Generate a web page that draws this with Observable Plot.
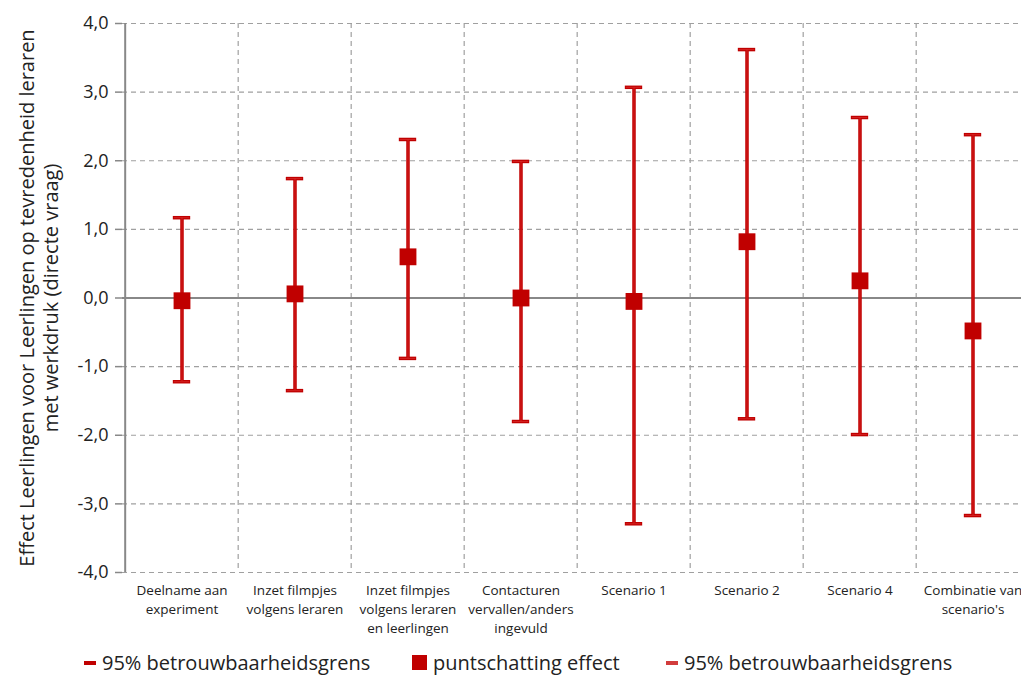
<!DOCTYPE html>
<html>
<head>
<meta charset="utf-8">
<script src="https://cdn.jsdelivr.net/npm/d3@7"></script>
<script src="https://cdn.jsdelivr.net/npm/@observablehq/plot@0.6"></script>
<style>
  html, body { margin: 0; padding: 0; background: #fff; overflow: hidden; width: 1021px; height: 675px; }
  #wrap { position: relative; width: 1021px; height: 675px; overflow: hidden; }
  #chart { position: absolute; left: 0; top: 0; }
  #chart svg { max-width: none !important; }
  #legend { position: absolute; left: 0; top: 649px; width: 1021px; font-family: "Open Sans", sans-serif; font-size: 20px; color: #222; white-space: nowrap; }
  .item { position: absolute; top: 0; display: flex; align-items: center; }
  .dash { display: inline-block; width: 12px; height: 4px; background: #c00000; margin-right: 6px; }
  .sq { display: inline-block; width: 15px; height: 15px; background: #c00000; margin-right: 6px; }
</style>
</head>
<body>
<div id="wrap">
  <div id="chart"></div>
  <div id="legend">
    <div class="item" style="left:84px"><span class="dash"></span>95% betrouwbaarheidsgrens</div>
    <div class="item" style="left:412px"><span class="sq"></span>puntschatting effect</div>
    <div class="item" style="left:666px"><span class="dash" style="background:#d23c3c"></span>95% betrouwbaarheidsgrens</div>
  </div>
</div>
<script>
const categories = [
  "Deelname aan\nexperiment",
  "Inzet filmpjes\nvolgens leraren",
  "Inzet filmpjes\nvolgens leraren\nen leerlingen",
  "Contacturen\nvervallen/anders\ningevuld",
  "Scenario 1",
  "Scenario 2",
  "Scenario 4",
  "Combinatie van\nscenario's"
];
const pointEstimate = [-0.04, 0.06, 0.60, 0.00, -0.05, 0.82, 0.25, -0.48];
const upperBound   = [1.17, 1.74, 2.31, 1.99, 3.07, 3.62, 2.63, 2.38];
const lowerBound   = [-1.22, -1.35, -0.88, -1.80, -3.29, -1.76, -1.99, -3.17];
const yTicks = [-4, -3, -2, -1, 0, 1, 2, 3, 4];
const yTitle = "Effect Leerlingen voor Leerlingen op tevredenheid leraren\nmet werkdruk (directe vraag)";

const data = categories.map((c, i) => ({cat: c, est: pointEstimate[i], lo: lowerBound[i], hi: upperBound[i]}));

const W = 1040, H = 645, ML = 122, MR = 9, MT = 23, MB = 73;
const bw = (W - ML - MR) / categories.length;
const red = "#c00000";
const redInner = "#d82a2a";
const grid = "#a0a0a0";
const capInset = bw / 2 - 9;

const chart = Plot.plot({
  width: W, height: H,
  marginLeft: ML, marginRight: MR, marginTop: MT, marginBottom: MB,
  style: {fontFamily: "'Open Sans', sans-serif", background: "#fff", color: "#222", maxWidth: "none"},
  x: {type: "band", domain: categories, padding: 0},
  y: {domain: [-4, 4]},
  marks: [
    Plot.ruleY(yTicks.filter(d => d !== 0), {stroke: grid, strokeWidth: 1.2, strokeDasharray: "5,4"}),
    Plot.ruleX(categories.slice(1), {dx: -bw / 2, stroke: grid, strokeWidth: 1.2, strokeDasharray: "5,4"}),
    Plot.ruleX(categories.slice(-1), {dx: bw / 2, stroke: grid, strokeWidth: 1.2, strokeDasharray: "5,4"}),
    Plot.axisY({ticks: yTicks, tickFormat: d => d.toFixed(1).replace(".", ","), tickSize: 7, tickPadding: 7, fontSize: 18, stroke: "#888", strokeWidth: 1.5, label: null}),
    Plot.ruleX(categories.slice(0, 1), {dx: -bw / 2, stroke: "#888", strokeWidth: 2}),
    Plot.axisX({tickSize: 0, tickPadding: 9, fontSize: 13.5, lineHeight: 1.4, label: null, textAnchor: "middle"}),
    Plot.ruleY([0], {stroke: "#888", strokeWidth: 2}),
    Plot.ruleX(data, {x: "cat", y1: "lo", y2: "hi", stroke: red, strokeWidth: 3.5}),
    Plot.tickY(data, {x: "cat", y: "hi", stroke: red, strokeWidth: 3.5, insetLeft: capInset, insetRight: capInset}),
    Plot.tickY(data, {x: "cat", y: "lo", stroke: red, strokeWidth: 3.5, insetLeft: capInset, insetRight: capInset}),
    Plot.ruleX(data, {x: "cat", y1: "lo", y2: "hi", stroke: redInner, strokeWidth: 0.8}),
    Plot.tickY(data, {x: "cat", y: "hi", stroke: redInner, strokeWidth: 0.8, insetLeft: capInset + 1, insetRight: capInset + 1}),
    Plot.tickY(data, {x: "cat", y: "lo", stroke: redInner, strokeWidth: 0.8, insetLeft: capInset + 1, insetRight: capInset + 1}),
    Plot.dot(data, {x: "cat", y: "est", symbol: "square", fill: red, r: 9.5}),
    Plot.text([yTitle], {frameAnchor: "left", rotate: -90, dx: -84, fontSize: 20, lineHeight: 1.2, fill: "#222", textAnchor: "middle"})
  ]
});

document.getElementById("chart").appendChild(chart);
</script>
</body>
</html>
